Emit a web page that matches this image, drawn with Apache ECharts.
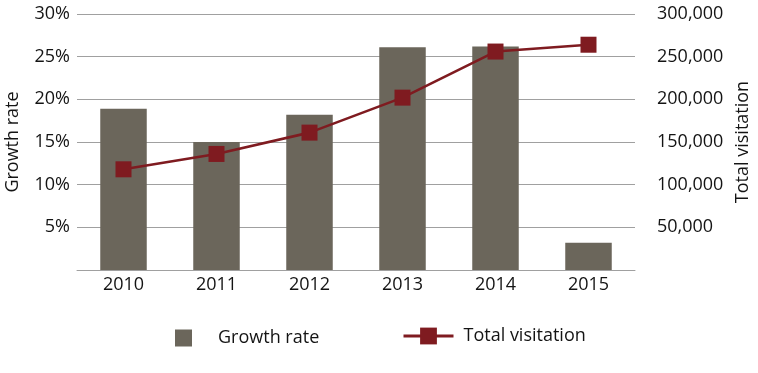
<!DOCTYPE html>
<html>
<head>
<meta charset="utf-8">
<script src="https://cdn.jsdelivr.net/npm/echarts@6/dist/echarts.min.js"></script>
<style>html,body{margin:0;padding:0;background:#fff}#c{width:758px;height:373px}</style>
</head>
<body>
<div id="c"></div>
<script>
var categories = ['2010', '2011', '2012', '2013', '2014', '2015'];
var growthRate = [18.9, 15.0, 18.2, 26.1, 26.2, 3.2];
var totalVisitation = [118000, 136000, 161000, 202000, 256000, 264000];
var leftTicks = { min: 0, max: 30, interval: 5 };
var rightTicks = { min: 0, max: 300000, interval: 50000 };

var FONT = 'Open Sans';
var TXT = '#141414';
var BAR = '#6b665b';
var RED = '#7f1b20';

var chart = echarts.init(document.getElementById('c'), null, { renderer: 'canvas' });
chart.setOption({
  backgroundColor: '#fff',
  animation: false,
  textStyle: { fontFamily: FONT, color: TXT },
  grid: { left: 77, right: 123, top: 14, bottom: 103, containLabel: false, outerBoundsMode: 'none' },
  legend: [
    {
      data: ['Growth rate'],
      left: 170, top: 324,
      itemWidth: 17, itemHeight: 17,
      icon: 'rect',
      textStyle: { fontFamily: FONT, fontSize: 18, color: TXT, padding: [0, 0, 0, 21] }
    },
    {
      data: ['Total visitation'],
      left: 397, top: 322,
      itemWidth: 50, itemHeight: 21,
      textStyle: { fontFamily: FONT, fontSize: 18, color: TXT, padding: [0, 0, 0, 5] },
      lineStyle: { width: 3 }
    }
  ],
  xAxis: {
    type: 'category',
    data: categories,
    axisLine: { lineStyle: { color: '#a0a0a0', width: 1 } },
    axisTick: { show: false },
    axisLabel: { fontFamily: FONT, fontSize: 18, color: TXT, margin: 6 }
  },
  yAxis: [
    {
      type: 'value',
      position: 'left',
      min: leftTicks.min, max: leftTicks.max, interval: leftTicks.interval,
      name: 'Growth rate',
      nameLocation: 'middle',
      nameRotate: 90,
      nameGap: 55,
      nameTextStyle: { fontFamily: FONT, fontSize: 18, color: TXT },
      axisLine: { show: false },
      axisTick: { show: false },
      splitLine: { lineStyle: { color: '#a0a0a0', width: 1 } },
      axisLabel: {
        fontFamily: FONT, fontSize: 18, color: TXT, margin: 7,
        formatter: function (v) { return v === 0 ? '' : v + '%'; }
      }
    },
    {
      type: 'value',
      position: 'right',
      min: rightTicks.min, max: rightTicks.max, interval: rightTicks.interval,
      name: 'Total visitation',
      nameLocation: 'middle',
      nameRotate: 90,
      nameGap: 99,
      nameTextStyle: { fontFamily: FONT, fontSize: 18, color: TXT },
      axisLine: { show: false },
      axisTick: { show: false },
      splitLine: { show: false },
      axisLabel: {
        fontFamily: FONT, fontSize: 18, color: TXT, margin: 22,
        formatter: function (v) { return v === 0 ? '' : v.toLocaleString('en-US'); }
      }
    }
  ],
  series: [
    {
      name: 'Growth rate',
      type: 'bar',
      yAxisIndex: 0,
      data: growthRate,
      barWidth: '50%',
      itemStyle: { color: BAR }
    },
    {
      name: 'Total visitation',
      type: 'line',
      yAxisIndex: 1,
      data: totalVisitation,
      symbol: 'rect',
      symbolSize: 16,
      lineStyle: { color: RED, width: 2.6 },
      itemStyle: { color: RED }
    }
  ]
});
</script>
</body>
</html>
